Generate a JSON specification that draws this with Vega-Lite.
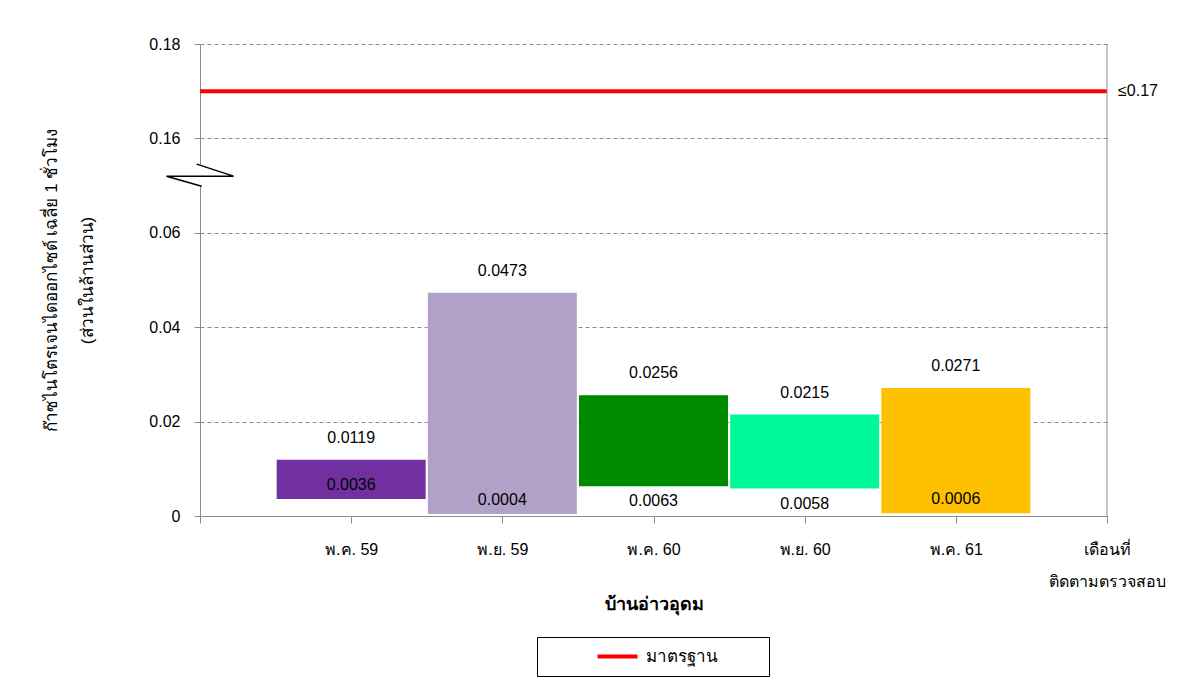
{
  "$schema": "https://vega.github.io/schema/vega-lite/v6.json",
  "width": 907,
  "height": 472,
  "autosize": {"type": "none"},
  "padding": {"left": 200, "top": 44, "right": 75, "bottom": 166},
  "background": "white",
  "config": {
    "font": "Liberation Sans",
    "view": {"stroke": null},
    "axis": {"labelFont": "Liberation Sans", "titleFont": "Liberation Sans", "labelColor": "black", "titleColor": "black", "domainColor": "#8c8c8c", "tickColor": "#8c8c8c"}
  },
  "datasets": {
    "nox": [
      {"month": "พ.ค. 59", "low": 0.0036, "high": 0.0119},
      {"month": "พ.ย. 59", "low": 0.0004, "high": 0.0473},
      {"month": "พ.ค. 60", "low": 0.0063, "high": 0.0256},
      {"month": "พ.ย. 60", "low": 0.0058, "high": 0.0215},
      {"month": "พ.ค. 61", "low": 0.0006, "high": 0.0271}
    ],
    "standard": [{"name": "มาตรฐาน", "value": 0.17}]
  },
  "encoding": {
    "x": {
      "field": "month",
      "type": "nominal",
      "scale": {"type": "point", "padding": 0, "domain": ["", "พ.ค. 59", "พ.ย. 59", "พ.ค. 60", "พ.ย. 60", "พ.ค. 61", "เดือนที่|ติดตามตรวจสอบ"]},
      "axis": {
        "title": "บ้านอ่าวอุดม",
        "titleFontSize": 18,
        "titleFontWeight": "bold",
        "titlePadding": 6,
        "labelAngle": 0,
        "labelFontSize": 16,
        "labelPadding": 18,
        "labelLineHeight": 32,
        "labelBaseline": "top",
        "labelExpr": "split(datum.label, '|')",
        "tickSize": 7,
        "grid": false
      }
    }
  },
  "layer": [
    {
      "data": {"name": "nox"},
      "mark": {"type": "bar", "width": 149},
      "encoding": {
        "y": {
          "field": "low",
          "type": "quantitative",
          "scale": {"domain": [0, 0.06, 0.16, 0.18], "range": [472, 188.8, 94.4, 0], "zero": false, "nice": false},
          "axis": {
            "title": ["ก๊าซไนโตรเจนไดออกไซด์ เฉลี่ย 1 ชั่วโมง", "(ส่วนในล้านส่วน)"],
            "titleFontSize": 17,
            "titleFontWeight": "normal",
            "titleLineHeight": 36,
            "titlePadding": 52,
            "values": [0, 0.02, 0.04, 0.06, 0.16, 0.18],
            "format": ".2~f",
            "labelFontSize": 16,
            "labelPadding": 14,
            "tickSize": 6,
            "grid": true,
            "gridColor": "#8c8c8c",
            "gridDash": [4, 3]
          }
        },
        "y2": {"field": "high"},
        "color": {
          "field": "month",
          "type": "nominal",
          "scale": {"domain": ["พ.ค. 59", "พ.ย. 59", "พ.ค. 60", "พ.ย. 60", "พ.ค. 61"], "range": ["#7030A0", "#B1A0C7", "#008A00", "#00FA9A", "#FFC000"]},
          "legend": null
        }
      }
    },
    {
      "data": {"name": "nox"},
      "mark": {"type": "text", "fontSize": 16, "dy": -22, "baseline": "middle"},
      "encoding": {
        "y": {"field": "high", "type": "quantitative"},
        "text": {"field": "high", "type": "quantitative", "format": ".4f"}
      }
    },
    {
      "data": {"name": "nox"},
      "transform": [{"filter": "datum.low > 0.005"}],
      "mark": {"type": "text", "fontSize": 16, "dy": 15, "baseline": "middle"},
      "encoding": {
        "y": {"field": "low", "type": "quantitative"},
        "text": {"field": "low", "type": "quantitative", "format": ".4f"}
      }
    },
    {
      "data": {"name": "nox"},
      "transform": [{"filter": "datum.low <= 0.005"}],
      "mark": {"type": "text", "fontSize": 16, "dy": -14, "baseline": "middle"},
      "encoding": {
        "y": {"field": "low", "type": "quantitative"},
        "text": {"field": "low", "type": "quantitative", "format": ".4f"}
      }
    },
    {
      "data": {"name": "standard"},
      "mark": {"type": "rule", "strokeWidth": 4},
      "encoding": {
        "x": null,
        "y": {"field": "value", "type": "quantitative"},
        "stroke": {
          "field": "name",
          "type": "nominal",
          "scale": {"range": ["#FF0000"]},
          "legend": {
            "title": " ",
            "titleOrient": "right",
            "titlePadding": 40,
            "titleFontSize": 11,
            "orient": "none",
            "legendX": 337,
            "legendY": 593,
            "strokeColor": "black",
            "padding": 11,
            "symbolType": "M-4,0L4,0",
            "symbolSize": 100,
            "symbolStrokeWidth": 4,
            "symbolOffset": 61,
            "labelFontSize": 17,
            "labelOffset": 20
          }
        }
      }
    },
    {
      "data": {"name": "standard"},
      "mark": {"type": "text", "fontSize": 16, "align": "left", "dx": 11, "baseline": "middle"},
      "encoding": {
        "x": {"datum": "เดือนที่|ติดตามตรวจสอบ"},
        "y": {"field": "value", "type": "quantitative"},
        "text": {"value": "≤0.17"}
      }
    },
    {
      "data": {"values": [{}]},
      "mark": {"type": "rule", "color": "#8c8c8c", "strokeWidth": 1},
      "encoding": {
        "x": {"datum": "เดือนที่|ติดตามตรวจสอบ"},
        "y": {"datum": 0},
        "y2": {"datum": 0.18}
      }
    },
    {
      "data": {"values": [{}]},
      "mark": {"type": "point", "shape": "M-0.1,-0.36L1,0L0.05,0.3L-1,0Z", "size": 4489, "filled": true, "fill": "white", "strokeWidth": 0, "opacity": 1},
      "encoding": {
        "x": {"datum": ""},
        "y": {"datum": 0.12}
      }
    },
    {
      "data": {"values": [{}]},
      "mark": {"type": "point", "shape": "M-0.1,-0.36L1,0L-1,0L0.05,0.3", "size": 4489, "filled": false, "stroke": "black", "strokeWidth": 1.5, "opacity": 1},
      "encoding": {
        "x": {"datum": ""},
        "y": {"datum": 0.12}
      }
    }
  ]
}
